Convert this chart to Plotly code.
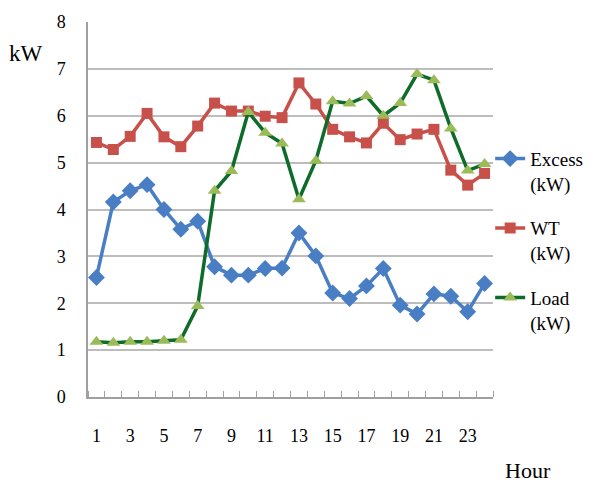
import plotly.graph_objects as go

hours = list(range(1, 25))
excess = [2.55, 4.16, 4.40, 4.53, 4.00, 3.58, 3.75, 2.78, 2.60, 2.60, 2.74, 2.75,
          3.50, 3.01, 2.22, 2.10, 2.37, 2.74, 1.96, 1.77, 2.20, 2.15, 1.82, 2.42]
wt = [5.43, 5.28, 5.56, 6.05, 5.55, 5.34, 5.78, 6.27, 6.10, 6.10, 5.99, 5.96,
      6.70, 6.25, 5.71, 5.55, 5.42, 5.84, 5.49, 5.61, 5.71, 4.84, 4.52, 4.77]
load = [1.18, 1.16, 1.18, 1.18, 1.20, 1.22, 1.94, 4.40, 4.82, 6.08, 5.64, 5.41,
        4.22, 5.04, 6.31, 6.26, 6.42, 6.00, 6.27, 6.89, 6.76, 5.73, 4.83, 4.97]
x_tick_labels = [str(h) for h in range(1, 24, 2)]
y_ticks = list(range(0, 9))

FONT = "Liberation Serif"

fig = go.Figure()
fig.add_trace(go.Scatter(x=hours, y=excess, name="Excess<br>(kW)", mode="lines+markers",
                         legendgroup="a",
                         line=dict(color="#4A7EC4", width=3.5),
                         marker=dict(symbol="diamond", size=13, color="#4A7EC4")))
fig.add_trace(go.Scatter(x=hours, y=wt, name="WT<br>(kW)", mode="lines+markers",
                         legendgroup="b",
                         line=dict(color="#C8504A", width=3.5),
                         marker=dict(symbol="square", size=11, color="#C8504A")))
fig.add_trace(go.Scatter(x=hours, y=load, name="Load<br>(kW)", mode="lines+markers",
                         legendgroup="c",
                         line=dict(color="#0E6B2A", width=3.5),
                         marker=dict(symbol="triangle-up", size=12, color="#9BBB59")))

fig.update_layout(
    width=594, height=485,
    margin=dict(l=80, r=109, t=14, b=96, autoexpand=False),
    paper_bgcolor="white", plot_bgcolor="white",
    font=dict(family=FONT, size=18, color="black"),
    showlegend=True,
    legend=dict(x=0.993, y=0.686, xanchor="left", yanchor="top",
                font=dict(family=FONT, size=19, color="black"),
                tracegroupgap=17, valign="top", bgcolor="rgba(0,0,0,0)"),
    xaxis=dict(range=[0.5, 24.5], tickmode="array",
               tickvals=list(range(1, 24, 2)), ticktext=x_tick_labels,
               ticks="", showgrid=False, zeroline=False,
               showline=True, linecolor="#A0A0A0", linewidth=1.5,
               ticklabelstandoff=22,
               minor=dict(tickvals=[h + 0.5 for h in range(0, 25)], ticks="inside",
                          ticklen=6, tickcolor="#A0A0A0", tickwidth=1.2, showgrid=False)),
    yaxis=dict(range=[0, 8], tickvals=y_ticks, ticks="", showgrid=True,
               gridcolor="#BDBDBD", gridwidth=1.5, zeroline=False,
               showline=True, linecolor="#A0A0A0", linewidth=1.5,
               ticklabelstandoff=17),
    annotations=[
        dict(text="kW", xref="paper", yref="paper", x=-0.1975, y=0.915, showarrow=False,
             xanchor="left", yanchor="middle", borderpad=0, font=dict(family=FONT, size=23)),
        dict(text="Hour", xref="paper", yref="paper", x=1.025, y=-0.195, showarrow=False,
             xanchor="left", yanchor="middle", font=dict(family=FONT, size=22)),
    ],
)

fig.write_html("out.html")
